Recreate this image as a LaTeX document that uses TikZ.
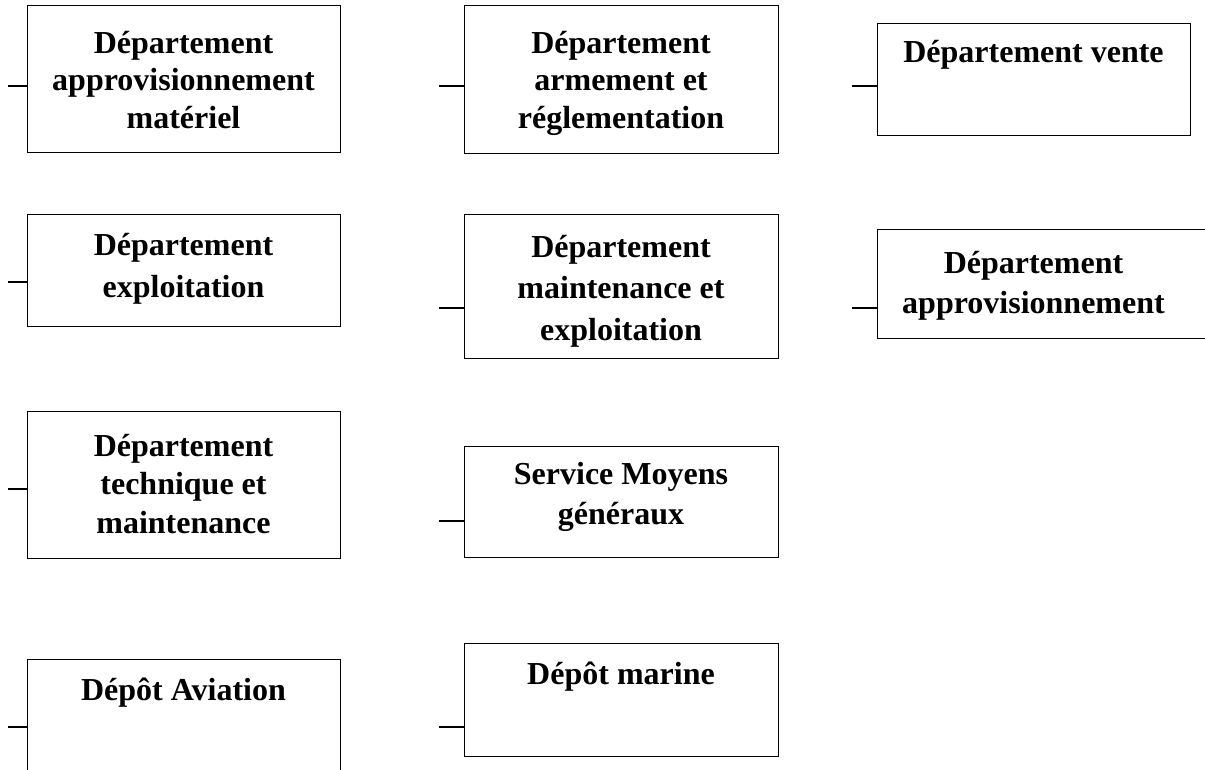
\documentclass[tikz,border=0pt]{standalone}
\usepackage{fontspec}
\setmainfont{Liberation Serif}
\begin{document}
\begin{tikzpicture}[x=1pt,y=-1pt,
  box/.style={draw, line width=1.1pt, anchor=north west, inner sep=0pt},
  lbl/.style={align=center, anchor=north, inner sep=0pt,
              font=\bfseries\fontsize{32}{37.5}\selectfont},
  stub/.style={line width=1.8pt}]
\useasboundingbox (0,0) rectangle (1205,769);
\clip (0,0) rectangle (1205,769);

% first column
\node[box, minimum width=313pt, minimum height=147pt] (a1) at (27,5) {};
\node[box, minimum width=313pt, minimum height=112pt] (a2) at (27,214) {};
\node[box, minimum width=313pt, minimum height=147pt] (a3) at (27,411) {};
\node[box, minimum width=313pt, minimum height=130pt] (a4) at (27,659) {};
% second column
\node[box, minimum width=314pt, minimum height=148pt] (b1) at (464,5) {};
\node[box, minimum width=314pt, minimum height=144pt] (b2) at (464,214) {};
\node[box, minimum width=314pt, minimum height=111pt] (b3) at (464,446) {};
\node[box, minimum width=314pt, minimum height=113pt] (b4) at (464,643) {};
% third column
\node[box, minimum width=313pt, minimum height=112pt] (c1) at (877,23) {};
\node[box, minimum width=340pt, minimum height=109pt] (c2) at (877,229) {};

% labels
\node[lbl] (ta1) at (183.5,31) {Département\\approvisionnement\\matériel};
\node[lbl] (ta2) at (183.5,233) {Département\\[5pt]exploitation};
\node[lbl] (ta3) at (183.5,434) {Département\\[1pt]technique et\\[1pt]maintenance};
\node[lbl] (ta4) at (183.5,678) {Dépôt Aviation};
\node[lbl] (tb1) at (621,31) {Département\\armement et\\réglementation};
\node[lbl] (tb2) at (621,235) {Département\\[4pt]maintenance et\\[4pt]exploitation};
\node[lbl] (tb3) at (621,462) {Service Moyens\\[3pt]généraux};
\node[lbl] (tb4) at (621,662) {Dépôt marine};
\node[lbl] (tc1) at (1033.5,40) {Département vente};
\node[lbl] (tc2) at (1033.5,251) {Département\\[3pt]approvisionnement};

% short feeder lines on the left of each box
\coordinate (sa1) at (8,86);   \draw[stub] (sa1) -- (sa1 -| a1.west);
\coordinate (sa2) at (8,282);  \draw[stub] (sa2) -- (sa2 -| a2.west);
\coordinate (sa3) at (8,489);  \draw[stub] (sa3) -- (sa3 -| a3.west);
\coordinate (sa4) at (8,727);  \draw[stub] (sa4) -- (sa4 -| a4.west);
\coordinate (sb1) at (439,86); \draw[stub] (sb1) -- (sb1 -| b1.west);
\coordinate (sb2) at (439,308);\draw[stub] (sb2) -- (sb2 -| b2.west);
\coordinate (sb3) at (439,521);\draw[stub] (sb3) -- (sb3 -| b3.west);
\coordinate (sb4) at (439,727);\draw[stub] (sb4) -- (sb4 -| b4.west);
\coordinate (sc1) at (852,86); \draw[stub] (sc1) -- (sc1 -| c1.west);
\coordinate (sc2) at (852,308);\draw[stub] (sc2) -- (sc2 -| c2.west);
\end{tikzpicture}
\end{document}
